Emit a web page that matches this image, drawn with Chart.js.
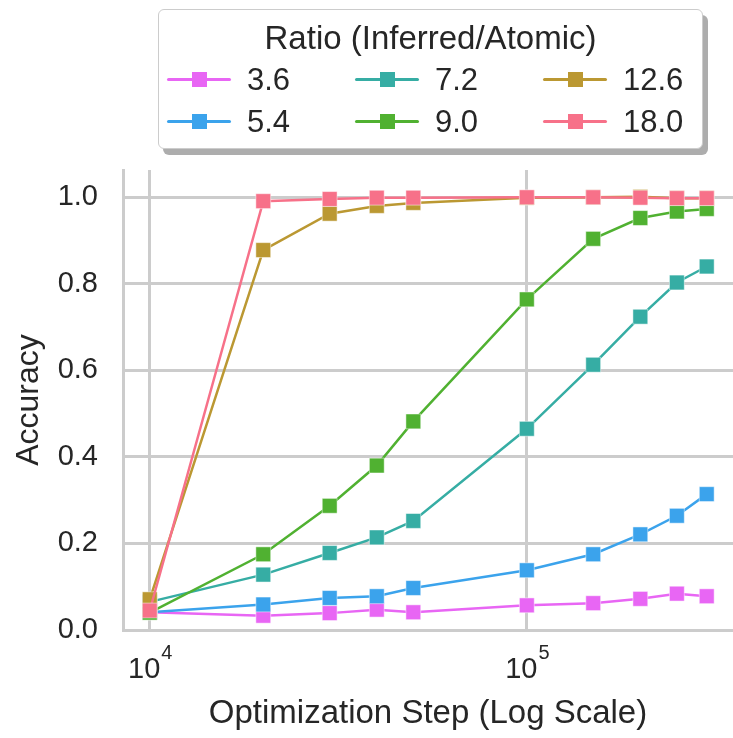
<!DOCTYPE html>
<html><head><meta charset="utf-8">
<script src="https://cdn.jsdelivr.net/npm/chart.js@4.4.1/dist/chart.umd.min.js"></script>
<style>
html,body{margin:0;padding:0;background:#fff;overflow:hidden;}
#wrap{position:relative;width:733px;height:738px;}
#c{position:absolute;left:0;top:0;}
#legend{position:absolute;left:158px;top:9px;width:543px;height:138px;border:1px solid #cccccc;border-radius:6px;background:#fff;box-shadow:5px 6px 0 rgba(0,0,0,0.32);font-family:"Liberation Sans",Arial,sans-serif;color:#262626;}
#legend .title{position:absolute;left:0;width:100%;text-align:center;top:8px;height:40px;line-height:40px;font-size:33px;white-space:nowrap;}
#legend .item{position:absolute;height:40px;}
#legend .ln{position:absolute;left:0;top:18px;width:64px;height:3px;border-radius:2px;}
#legend .mk{position:absolute;left:25px;top:12px;width:15px;height:15px;}
#legend .lb{position:absolute;left:80px;top:0;height:40px;line-height:40px;font-size:31px;white-space:nowrap;}
</style>
</head><body>
<div id="wrap"><canvas id="c" width="733" height="738"></canvas><div id="legend"></div></div>
<script>
// ---- data ----
const steps = [10000, 20000, 30000, 40000, 50000, 100000, 150000, 200000, 250000, 300000];
const ratios = ['3.6', '5.4', '7.2', '9.0', '12.6', '18.0'];
const acc_3_6  = [0.041, 0.033, 0.039, 0.047, 0.041, 0.057, 0.062, 0.072, 0.084, 0.078];
const acc_5_4  = [0.041, 0.059, 0.074, 0.078, 0.097, 0.138, 0.175, 0.221, 0.264, 0.314];
const acc_7_2  = [0.065, 0.128, 0.178, 0.214, 0.252, 0.465, 0.613, 0.724, 0.803, 0.840];
const acc_9_0  = [0.040, 0.175, 0.287, 0.380, 0.482, 0.764, 0.904, 0.952, 0.967, 0.973];
const acc_12_6 = [0.071, 0.878, 0.962, 0.980, 0.987, 0.999, 1.000, 1.001, 0.998, 0.998];
const acc_18_0 = [0.045, 0.991, 0.996, 0.999, 0.999, 1.000, 1.000, 0.999, 0.998, 0.998];
const colors = ['#e866f4', '#3ba3ec', '#36ada4', '#50b131', '#bb9832', '#f77189'];
const xTickValues = [10000, 100000];
const yTickValues = [0, 0.2, 0.4, 0.6, 0.8, 1.0];
const legendTitle = 'Ratio (Inferred/Atomic)';
const xTitle = 'Optimization Step (Log Scale)';
const yTitle = 'Accuracy';

const series = [acc_3_6, acc_5_4, acc_7_2, acc_9_0, acc_12_6, acc_18_0];
const FONT = '"Liberation Sans", Arial, sans-serif';
const TEXT = '#262626';

const datasets = series.map((vals, i) => ({
  label: ratios[i],
  data: steps.map((s, j) => ({x: s, y: vals[j]})),
  borderColor: colors[i],
  backgroundColor: colors[i],
  borderWidth: 2.5,
  pointStyle: 'rect',
  pointRadius: 10.5,
  pointHoverRadius: 10.5,
  pointBackgroundColor: colors[i],
  pointBorderColor: 'rgba(255,255,255,0.6)',
  pointBorderWidth: 0.8,
  order: series.length - 1 - i,
  tension: 0,
  clip: false
}));

const xTickPlugin = {
  id: 'xTickLabels',
  afterDraw(chart) {
    const xs = chart.scales.x, ctx = chart.ctx;
    ctx.save();
    ctx.fillStyle = TEXT;
    ctx.textBaseline = 'alphabetic';
    xTickValues.forEach(v => {
      const px = xs.getPixelForValue(v);
      const base = '10', sup = String(Math.round(Math.log10(v)));
      ctx.font = '29px ' + FONT; const wb = ctx.measureText(base).width;
      ctx.font = '20px ' + FONT; const ws = ctx.measureText(sup).width;
      const x0 = px - (wb + ws) / 2;
      ctx.font = '29px ' + FONT; ctx.fillText(base, x0, 678);
      ctx.font = '20px ' + FONT; ctx.fillText(sup, x0 + wb + 1, 659);
    });
    ctx.restore();
  }
};

const chart = new Chart(document.getElementById('c'), {
  type: 'line',
  data: { datasets },
  plugins: [xTickPlugin],
  options: {
    responsive: false,
    animation: false,
    devicePixelRatio: 1,
    layout: { autoPadding: false, padding: { top: 170, right: 0, bottom: 0, left: 0 } },
    plugins: { legend: { display: false }, tooltip: { enabled: false } },
    scales: {
      x: {
        type: 'logarithmic',
        min: 8492, max: 352200,
        afterBuildTicks: s => { s.ticks = xTickValues.map(v => ({value: v})); },
        afterFit: s => { s.height = 108; },
        ticks: { display: false },
        grid: { color: '#cccccc', lineWidth: 3, drawTicks: false },
        border: { display: true, color: '#cccccc', width: 3 },
        title: { display: true, text: xTitle, color: TEXT, font: { family: FONT, size: 33 }, padding: { top: 0, bottom: 4 } }
      },
      y: {
        type: 'linear',
        min: 0, max: 1.063,
        afterBuildTicks: s => { s.ticks = yTickValues.map(v => ({value: v})); },
        afterFit: s => { s.width = 123; },
        ticks: { color: TEXT, font: { family: FONT, size: 29 }, padding: 25, callback: v => Number(v).toFixed(1) },
        grid: { color: '#cccccc', lineWidth: 3, drawTicks: false },
        border: { display: true, color: '#cccccc', width: 3 },
        title: { display: true, text: yTitle, color: TEXT, font: { family: FONT, size: 32 }, padding: { top: 10, bottom: 0 } }
      }
    }
  }
});

// ---- legend (column-major, 3 columns x 2 rows) ----
const lg = document.getElementById('legend');
const t = document.createElement('div'); t.className = 'title'; t.textContent = legendTitle; lg.appendChild(t);
const colX = [8, 196, 384], rowY = [50, 92];
chart.data.datasets.forEach((ds, i) => {
  const col = Math.floor(i / 2), row = i % 2;
  const it = document.createElement('div'); it.className = 'item';
  it.style.left = colX[col] + 'px'; it.style.top = rowY[row] + 'px';
  const ln = document.createElement('div'); ln.className = 'ln'; ln.style.background = ds.borderColor;
  const mk = document.createElement('div'); mk.className = 'mk'; mk.style.background = ds.borderColor;
  const lb = document.createElement('div'); lb.className = 'lb'; lb.textContent = ds.label;
  it.appendChild(ln); it.appendChild(mk); it.appendChild(lb); lg.appendChild(it);
});
</script>
</body></html>
